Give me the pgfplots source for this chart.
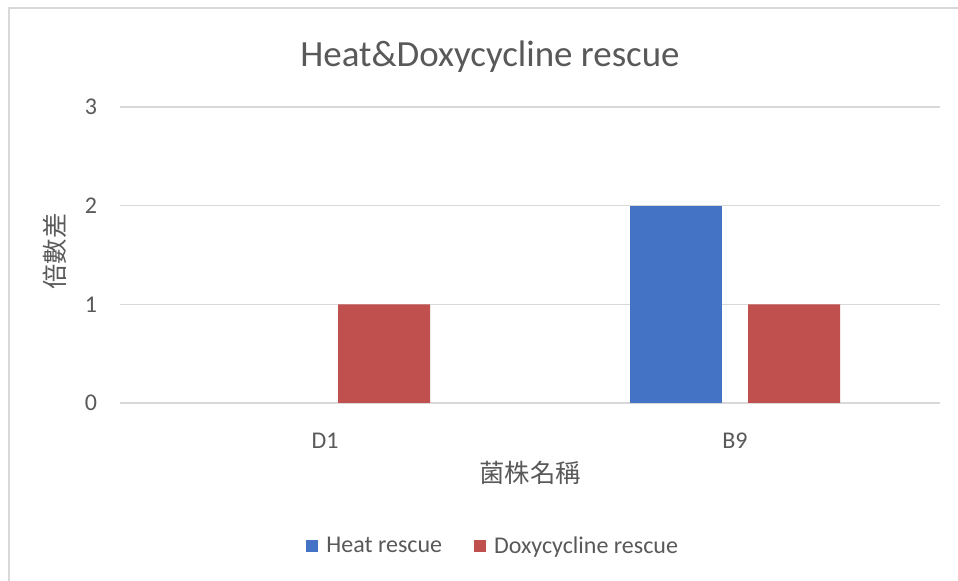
\documentclass[border=0pt]{standalone}
\usepackage{pgfplots}
\pgfplotsset{compat=1.18}
\usepackage{fontspec}
\setmainfont{Carlito}
\newfontfamily\cjk{Noto Sans CJK TC}
\definecolor{barblue}{HTML}{4472C4}
\definecolor{barred}{HTML}{C0504D}
\definecolor{txt}{HTML}{595959}
\definecolor{gridc}{HTML}{D9D9D9}
\begin{document}
\begin{tikzpicture}
\useasboundingbox[fill=white] (0,0) rectangle (718.5pt,435.75pt);
\draw[color=gridc, line width=1.5pt] (6.4pt,0) -- (6.4pt,429.4pt) -- (718.5pt,429.4pt);
\begin{axis}[
  at={(90pt,133.5pt)}, anchor=south west,
  scale only axis, width=615pt, height=222pt,
  xmin=-0.5, xmax=1.5, ymin=0, ymax=3,
  ybar=19.5pt, bar width=69pt,
  xtick={0,1}, xticklabels={D1,B9},
  ytick={0,1,2,3},
  ymajorgrids, grid style={color=gridc, line width=1pt},
  axis line style={draw=none},
  major tick length=0pt,
  tick label style={font=\fontsize{18}{20}\selectfont, text=txt},
  yticklabel style={inner sep=0pt, anchor=east, xshift=-17pt},
  xticklabel style={inner sep=0pt, anchor=north, yshift=-22.5pt},
  /pgf/number format/assume math mode=true,
  legend style={at={(0.4555,-0.4831)}, anchor=center, draw=none, fill=none,
    legend columns=2, font=\fontsize{18}{20}\selectfont, text=txt,
    /tikz/every even column/.append style={column sep=22pt}},
  legend image code/.code={\fill[#1] (0pt,-4.5pt) rectangle (9pt,4.5pt); \path (13pt,0pt);},
]
\addplot[fill=barblue, draw=none] coordinates {(1,2)};
\addlegendentry{Heat rescue}
\addplot[fill=barred, draw=none] coordinates {(0,1) (1,1)};
\addlegendentry{Doxycycline rescue}
\end{axis}
\node[anchor=base, text=txt, font=\fontsize{27.7}{30}\selectfont] at (367.5pt,385.5pt) {Heat\&Doxycycline rescue};
\node[rotate=90, text=txt, font=\cjk\fontsize{19}{21}\selectfont] at (41.25pt,247pt) {倍數差};
\node[text=txt, font=\cjk\fontsize{19}{21}\selectfont] at (397.5pt,81pt) {菌株名稱};
\end{tikzpicture}
\end{document}
